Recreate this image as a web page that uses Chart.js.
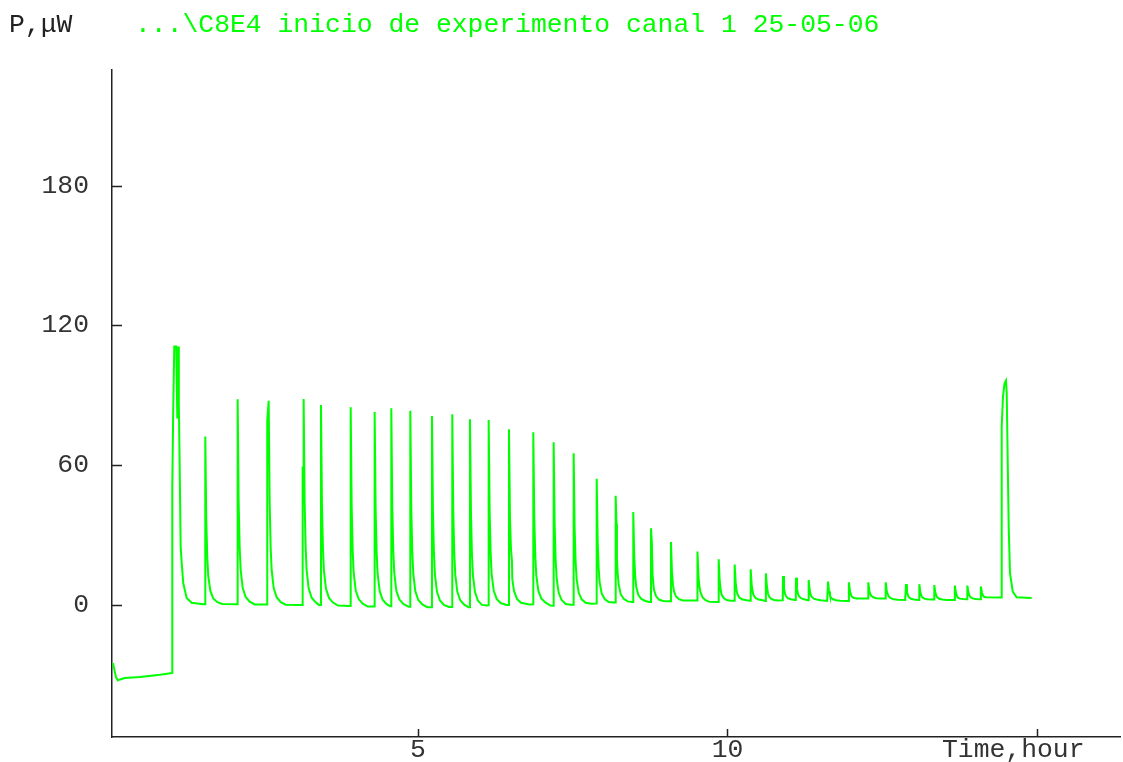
<!DOCTYPE html>
<html><head><meta charset="utf-8">
<script src="https://cdn.jsdelivr.net/npm/chart.js@4"></script>
<style>
html,body{margin:0;padding:0;background:#fff;}
#wrap{position:relative;width:1123px;height:762px;overflow:hidden;}
canvas{position:absolute;left:0;top:0;}
.lbl{position:absolute;font-family:"Liberation Mono","Courier New",monospace;font-size:26.4px;line-height:26px;white-space:pre;}
</style></head><body>
<div id="wrap">
<canvas id="c" width="1123" height="762"></canvas>
<div class="lbl" style="left:9px;top:12px;color:#222">P,μW</div>
<div class="lbl" style="left:135px;top:12px;color:#00ff00">...\C8E4 inicio de experimento canal 1 25-05-06</div>
<div class="lbl" style="left:942px;top:737px;color:#333">Time,hour</div>
</div>
<script>
// ---- data (time in hours, power in µW) ----
const timeH = [
  0.073,0.121,0.153,0.186,0.267,0.509,0.832,1.027,
  1.031,1.045,1.063,1.095,1.112,1.128,1.134,1.139,1.150,1.166,1.183,1.208,1.263,1.344,1.531,
  1.560,1.564,1.580,1.596,1.612,1.645,1.693,1.758,1.839,
  2.083,2.087,2.103,2.119,2.135,2.168,2.216,2.281,2.362,
  2.561,2.565,2.588,2.604,2.620,2.636,2.669,2.717,2.782,2.863,
  3.133,3.137,3.145,3.153,3.169,3.185,3.201,3.234,3.282,3.347,3.400,
  3.429,3.433,3.449,3.465,3.481,3.514,3.562,3.627,3.708,
  3.909,3.913,3.929,3.945,3.961,3.994,4.042,4.107,4.188,
  4.296,4.300,4.316,4.332,4.348,4.381,4.429,4.494,4.550,
  4.565,4.569,4.585,4.601,4.617,4.650,4.698,4.763,4.850,
  4.872,4.876,4.892,4.908,4.924,4.957,5.005,5.070,5.150,
  5.222,5.226,5.242,5.258,5.274,5.307,5.355,5.420,5.500,
  5.550,5.554,5.570,5.586,5.602,5.635,5.683,5.748,5.815,
  5.836,5.840,5.856,5.872,5.888,5.921,5.969,6.034,6.115,
  6.138,6.142,6.158,6.174,6.190,6.223,6.271,6.336,6.430,
  6.466,6.470,6.486,6.502,6.518,6.524,6.551,6.599,6.664,6.800,
  6.859,6.863,6.879,6.895,6.911,6.944,6.992,7.057,7.140,
  7.188,7.192,7.208,7.224,7.240,7.273,7.321,7.386,7.470,
  7.511,7.515,7.531,7.547,7.563,7.596,7.644,7.709,7.800,
  7.883,7.887,7.903,7.919,7.935,7.968,8.016,8.081,8.160,
  8.190,8.194,8.206,8.214,8.226,8.242,8.275,8.323,8.388,8.460,
  8.474,8.478,8.494,8.510,8.526,8.559,8.607,8.672,8.740,
  8.760,8.764,8.778,8.790,8.812,8.845,8.893,8.958,9.040,
  9.083,9.087,9.103,9.119,9.135,9.168,9.216,9.281,9.360,
  9.511,9.515,9.531,9.547,9.563,9.596,9.644,9.709,9.840,
  9.854,9.858,9.874,9.890,9.906,9.939,9.987,10.052,10.100,
  10.112,10.116,10.132,10.148,10.164,10.197,10.245,10.310,10.360,
  10.371,10.375,10.391,10.407,10.423,10.456,10.504,10.569,10.610,
  10.618,10.622,10.638,10.654,10.670,10.703,10.751,10.816,10.880,
  10.893,10.897,10.913,10.929,10.945,10.978,11.026,11.090,
  11.103,11.107,11.123,11.139,11.155,11.188,11.236,11.300,
  11.308,11.312,11.328,11.344,11.360,11.393,11.441,11.506,11.610,
  11.620,11.624,11.640,11.656,11.672,11.705,11.753,11.818,11.950,
  11.959,11.963,11.979,11.995,12.011,12.044,12.092,12.157,12.260,
  12.271,12.275,12.291,12.307,12.323,12.356,12.404,12.469,12.540,
  12.552,12.556,12.572,12.588,12.604,12.637,12.685,12.750,12.870,
  12.880,12.884,12.900,12.916,12.932,12.965,13.013,13.090,
  13.095,13.099,13.115,13.131,13.147,13.180,13.228,13.293,13.330,
  13.337,13.341,13.357,13.373,13.389,13.422,13.470,13.535,13.660,
  13.671,13.675,13.691,13.707,13.723,13.756,13.804,13.870,
  13.873,13.877,13.893,13.909,13.925,13.958,14.006,14.090,
  14.091,14.095,14.111,14.127,14.143,14.176,
  14.428,14.430,14.451,14.475,14.499,14.511,14.527,14.543,14.564,14.608,14.672,14.914
];
const powerUW = [
  -25.0,-31.0,-32.4,-32.0,-31.4,-30.9,-30.0,-29.2,
  50,82,110.9,110.9,80,110.9,110.9,86.7,60,25,18,9.4,3.0,0.9,0.3,
  0.3,72.3,36.3,20.5,12.5,6.1,2.8,1.2,0.4,
  0.3,88.3,44.3,24.9,15.3,7.3,3.4,1.4,0.2,
  0.2,79.0,87.6,43.9,24.7,15.1,7.2,3.3,1.2,0.1,
  0.0,59.4,45.0,88.4,44.2,24.8,15.0,7.1,3.1,1.1,0.0,
  0.0,85.8,42.9,24.0,14.6,6.9,3.0,1.0,-0.3,
  -0.5,84.8,42.2,23.4,14.0,6.3,2.5,0.5,-0.7,
  -0.7,82.8,41.1,22.7,13.5,6.0,2.2,0.3,-0.6,
  -0.6,84.4,41.9,23.2,13.9,6.2,2.4,0.4,-0.8,
  -0.8,83.3,41.3,22.7,13.5,5.9,2.1,0.2,-1.0,
  -1.0,81.1,40.1,22.0,13.0,5.6,1.9,0.0,-0.9,
  -0.9,81.8,40.5,22.3,13.2,5.7,2.0,0.1,-1.0,
  -1.0,79.7,39.4,21.6,12.7,5.5,1.8,0.0,-0.3,
  -0.2,79.4,39.6,22.1,13.3,6.2,2.6,0.8,0.0,
  0.0,75.4,37.7,24.0,19.0,11.0,6.0,2.6,0.9,0.2,
  0.3,74.1,37.2,20.9,12.8,6.1,2.8,1.1,-0.3,
  -0.4,69.8,34.7,19.3,11.5,5.2,2.1,0.4,0.1,
  0.1,65.1,32.6,18.3,11.2,5.3,2.4,0.9,0.5,
  0.6,54.1,27.4,15.6,9.7,4.9,2.5,1.2,1.0,
  1.0,46.8,34.8,20.0,13.7,8.8,4.6,2.6,1.5,1.2,
  1.2,39.9,20.6,12.0,7.8,4.3,2.6,1.7,1.3,
  1.3,32.9,27.0,13.0,6.5,3.8,2.3,1.7,1.6,
  1.6,27.0,14.3,8.7,5.9,3.6,2.5,1.9,1.9,
  1.9,22.9,12.4,7.8,5.5,3.3,2.0,1.3,1.2,
  1.2,19.6,10.4,6.4,4.3,2.9,2.1,1.8,1.8,
  1.8,17.3,9.6,6.1,4.4,3.0,2.3,2.0,1.8,
  1.8,15.3,8.6,5.6,4.1,2.9,2.3,2.0,1.7,
  1.7,13.6,7.7,5.0,3.7,2.7,2.1,1.9,2.0,
  2.0,12.4,7.2,4.9,3.8,2.8,2.4,2.1,
  2.1,11.7,6.9,4.8,3.7,2.9,2.4,2.0,
  2.0,10.7,6.4,4.4,3.5,2.7,2.3,2.0,1.7,
  1.7,10.0,5.9,4.0,3.1,2.4,2.0,1.8,1.7,
  1.7,9.7,6.0,4.3,3.5,3.0,2.8,2.7,2.7,
  2.7,9.7,6.2,4.7,3.9,3.3,2.9,2.8,2.7,
  2.7,9.7,6.2,4.6,3.7,2.9,2.4,2.2,2.1,
  2.1,8.9,5.5,4.0,3.3,2.6,2.3,2.1,
  2.1,8.9,5.5,4.0,3.3,2.7,2.4,2.3,2.3,
  2.3,8.5,5.4,4.0,3.3,2.6,2.3,2.1,2.1,
  2.1,8.3,5.2,3.8,3.1,2.7,2.5,2.4,
  2.4,8.3,5.3,4.0,3.4,2.8,2.5,2.4,
  2.4,7.9,5.2,4.0,3.5,3.3,
  3.2,76.5,89.4,95.0,96.3,91.0,62.0,33.6,13.7,5.7,3.3,3.0
];
const yTicks = [0, 60, 120, 180];
const xTicks = [5, 10, 15];
const xTickLabels = ['5', '10', ''];
const yRange = [-56.7, 229.6];
const xRange = [0.057, 16.341];

const points = timeH.map((t, i) => ({x: t, y: powerUW[i]}));

const inwardTicks = {
  id: 'inwardTicks',
  afterDraw(chart) {
    const ctx = chart.ctx, a = chart.chartArea;
    const xs = chart.scales.x, ys = chart.scales.y;
    ctx.save();
    ctx.strokeStyle = '#222';
    ctx.lineWidth = 1.5;
    ctx.beginPath();
    yTicks.forEach(v => { const y = Math.round(ys.getPixelForValue(v)) + 0.5; ctx.moveTo(a.left, y); ctx.lineTo(a.left + 10, y); });
    xTicks.forEach(v => { const x = Math.round(xs.getPixelForValue(v)) + 0.5; ctx.moveTo(x, a.bottom); ctx.lineTo(x, a.bottom - 8); });
    ctx.stroke();
    ctx.restore();
  }
};

new Chart(document.getElementById('c'), {
  type: 'line',
  data: { datasets: [{ data: points, borderColor: '#00ff00', borderWidth: 2, pointRadius: 0, tension: 0, fill: false }] },
  options: {
    responsive: false, animation: false, parsing: true,
    layout: { padding: { left: 0, top: 70, right: 3, bottom: 0 } },
    plugins: { legend: { display: false }, tooltip: { enabled: false }, title: { display: false } },
    scales: {
      x: {
        type: 'linear', min: xRange[0], max: xRange[1],
        grid: { display: false, drawTicks: false },
        border: { display: true, color: '#222', width: 1.5 },
        afterBuildTicks: s => { s.ticks = xTicks.map(v => ({ value: v })); },
        afterFit: s => { s.height = 25; s.paddingLeft = 0; s.paddingRight = 0; },
        ticks: { padding: -3, color: '#333', maxRotation: 0, font: { family: 'Liberation Mono', size: 26.4 },
          callback: (v) => { const i = xTicks.indexOf(v); return i >= 0 ? xTickLabels[i] : ''; } }
      },
      y: {
        type: 'linear', min: yRange[0], max: yRange[1],
        grid: { display: false, drawTicks: false },
        border: { display: true, color: '#222', width: 1.5 },
        afterBuildTicks: s => { s.ticks = yTicks.map(v => ({ value: v })); },
        afterFit: s => { s.width = 112; s.paddingTop = 0; s.paddingBottom = 0; },
        ticks: { padding: 23, color: '#333', font: { family: 'Liberation Mono', size: 26.4 } }
      }
    }
  },
  plugins: [inwardTicks]
});
</script>
</body></html>
